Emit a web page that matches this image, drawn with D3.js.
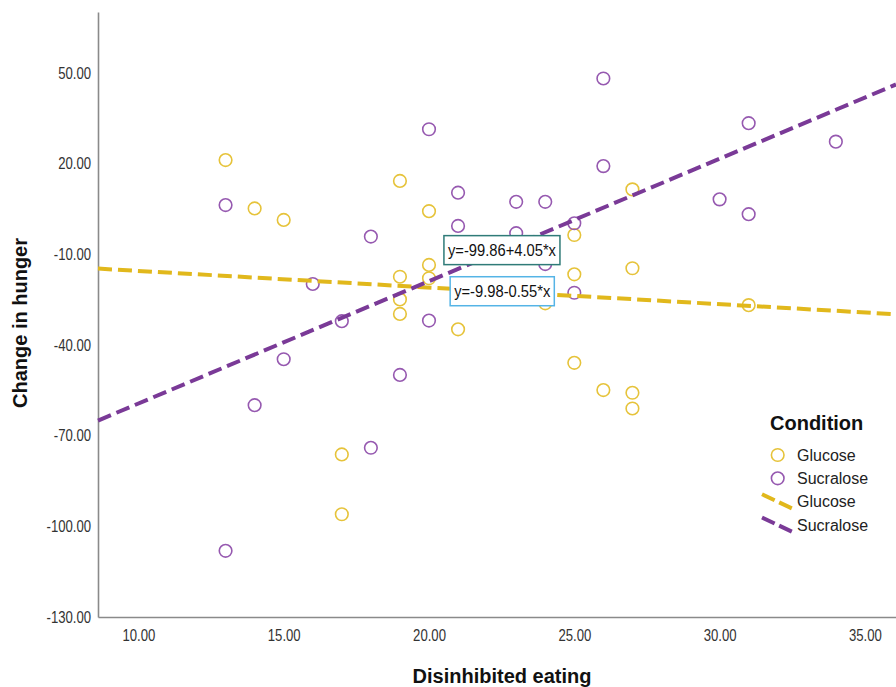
<!DOCTYPE html>
<html>
<head>
<meta charset="utf-8">
<script src="https://cdn.jsdelivr.net/npm/d3@7"></script>
<style>
  html, body { margin: 0; padding: 0; background: #ffffff; }
  svg { display: block; font-family: Arial, "Liberation Sans", sans-serif; }
</style>
</head>
<body>
<svg id="chart" width="896" height="687"></svg>
<script>
// ---------------- data ----------------
const conditions = ["Glucose", "Sucralose"];

const glucoseX = [13, 14, 15, 19, 20, 20, 19, 20, 19, 19, 21, 25, 25, 24, 27, 27, 31, 25, 26, 27, 27, 17, 17];
const glucoseY = [21.2, 5.2, 1.4, 14.3, 4.3, -13.5, -17.4, -17.9, -24.9, -29.7, -34.8, -3.6, -16.6, -26.2, 11.5, -14.6, -26.8, -45.9, -54.9, -55.8, -61.0, -76.2, -96.0];

const sucraloseX = [13, 13, 14, 15, 16, 17, 18, 18, 19, 20, 20, 21, 21, 23, 23, 24, 24, 25, 25, 26, 26, 30, 31, 31, 34];
const sucraloseY = [6.3, -108.1, -59.9, -44.7, -19.8, -32.1, -4.1, -74.0, -49.9, 31.4, -31.9, 10.4, -0.6, 7.4, -3.0, 7.4, -13.2, 0.3, -22.7, 48.2, 19.2, 8.2, 33.4, 3.3, 27.3];

// fit lines: y = intercept + slope * x  (order: Glucose, Sucralose)
const fitIntercepts = [-9.98, -99.86];
const fitSlopes = [-0.55, 4.05];
const fitLabels = ["y=-9.98-0.55*x", "y=-99.86+4.05*x"];
// label anchor positions in data space (x, y)
const fitLabelX = [22.52, 22.51];
const fitLabelY = [-22.2, -8.6];

const xTicks = [10, 15, 20, 25, 30, 35];
const yTicks = [-130, -100, -70, -40, -10, 20, 50];
const xDomain = [8.61, 36.07];
const yDomain = [-130, 70.2];

const xTitle = "Disinhibited eating";
const yTitle = "Change in hunger";
const legendTitle = "Condition";

// ---------------- styles ----------------
const pointColors = ["#e6c33a", "#9659b0"];
const lineColors = ["#e1b81c", "#7a3a97"];
const labelBorders = ["#55b4e6", "#2f7b78"];

// ---------------- chart ----------------
const svg = d3.select("#chart");
svg.append("rect").attr("width", 896).attr("height", 687).attr("fill", "#ffffff");

const x = d3.scaleLinear().domain(xDomain).range([98, 896]);
const y = d3.scaleLinear().domain(yDomain).range([617, 12]);
const fmt = d => d.toFixed(2);

function condense(sel, factor) {
  sel.each(function () {
    const len = this.getComputedTextLength();
    d3.select(this).attr("textLength", len * factor).attr("lengthAdjust", "spacingAndGlyphs");
  });
}

// axes
const xAxis = svg.append("g").attr("transform", "translate(0,617)")
  .call(d3.axisBottom(x).tickValues(xTicks).tickFormat(fmt).tickSize(0).tickPadding(0));
xAxis.select(".domain").attr("stroke", "#8a8a8a").attr("stroke-width", 1.6);
xAxis.selectAll(".tick text").attr("font-size", 16).attr("fill", "#333").attr("dy", "24px")
  .attr("font-family", "Arial, 'Liberation Sans', sans-serif");
condense(xAxis.selectAll(".tick text"), 0.82);

const yAxis = svg.append("g").attr("transform", "translate(98,0)")
  .call(d3.axisLeft(y).tickValues(yTicks).tickFormat(fmt).tickSize(0).tickPadding(7));
yAxis.select(".domain").attr("stroke", "#8a8a8a").attr("stroke-width", 1.6);
yAxis.selectAll(".tick text").attr("font-size", 16).attr("fill", "#333")
  .attr("font-family", "Arial, 'Liberation Sans', sans-serif");
condense(yAxis.selectAll(".tick text"), 0.82);

// titles
svg.append("text").attr("x", 502).attr("y", 683).attr("text-anchor", "middle")
  .attr("font-size", 20).attr("font-weight", "bold").attr("fill", "#111").text(xTitle);
svg.append("text").attr("transform", "translate(27,323) rotate(-90)").attr("text-anchor", "middle")
  .attr("font-size", 20).attr("font-weight", "bold").attr("fill", "#111").text(yTitle);

// points
const seriesX = [glucoseX, sucraloseX];
const seriesY = [glucoseY, sucraloseY];
const pts = svg.append("g");
conditions.forEach((c, i) => {
  const data = seriesX[i].map((v, k) => ({ x: v, y: seriesY[i][k] }));
  pts.selectAll(null).data(data).enter().append("circle")
    .attr("cx", d => x(d.x)).attr("cy", d => y(d.y)).attr("r", 6.3)
    .attr("fill", "none").attr("stroke", pointColors[i]).attr("stroke-width", 1.6);
});

// fit lines
const lines = svg.append("g");
conditions.forEach((c, i) => {
  const xs = xDomain;
  lines.append("line")
    .attr("x1", x(xs[0])).attr("y1", y(fitIntercepts[i] + fitSlopes[i] * xs[0]))
    .attr("x2", x(xs[1])).attr("y2", y(fitIntercepts[i] + fitSlopes[i] * xs[1]))
    .attr("stroke", lineColors[i]).attr("stroke-width", 4)
    .attr("stroke-dasharray", "14,6");
});

// fit labels
const labs = svg.append("g");
[1, 0].forEach(i => {
  const g = labs.append("g").attr("transform", `translate(${x(fitLabelX[i])},${y(fitLabelY[i])})`);
  const rect = g.append("rect");
  const t = g.append("text").attr("text-anchor", "middle").attr("dy", "0.36em")
    .attr("font-size", 16).attr("fill", "#111").text(fitLabels[i]);
  const natural = t.node().getComputedTextLength();
  t.attr("textLength", natural * 0.92).attr("lengthAdjust", "spacingAndGlyphs");
  const w = natural * 0.92 + 8;
  rect.attr("x", -w / 2).attr("y", -14.5).attr("width", w).attr("height", 29)
    .attr("fill", "#ffffff").attr("stroke", labelBorders[i]).attr("stroke-width", 1.5);
});

// legend
const lg = svg.append("g");
lg.append("text").attr("x", 770).attr("y", 430).attr("font-size", 20).attr("font-weight", "bold")
  .attr("fill", "#111").text(legendTitle);
const rowY = [455, 478.3, 501.7, 525];
conditions.forEach((c, i) => {
  lg.append("circle").attr("cx", 777.7).attr("cy", rowY[i]).attr("r", 6.3)
    .attr("fill", "none").attr("stroke", pointColors[i]).attr("stroke-width", 1.6);
  lg.append("text").attr("x", 797).attr("y", rowY[i]).attr("dy", "0.36em")
    .attr("font-size", 16).attr("fill", "#222").text(c);
});
conditions.forEach((c, i) => {
  const cy = rowY[i + 2];
  lg.append("line").attr("x1", 762).attr("y1", cy - 7.5).attr("x2", 792.5).attr("y2", cy + 7)
    .attr("stroke", lineColors[i]).attr("stroke-width", 4).attr("stroke-dasharray", "14,5");
  lg.append("text").attr("x", 797).attr("y", cy).attr("dy", "0.36em")
    .attr("font-size", 16).attr("fill", "#222").text(c);
});
</script>
</body>
</html>
